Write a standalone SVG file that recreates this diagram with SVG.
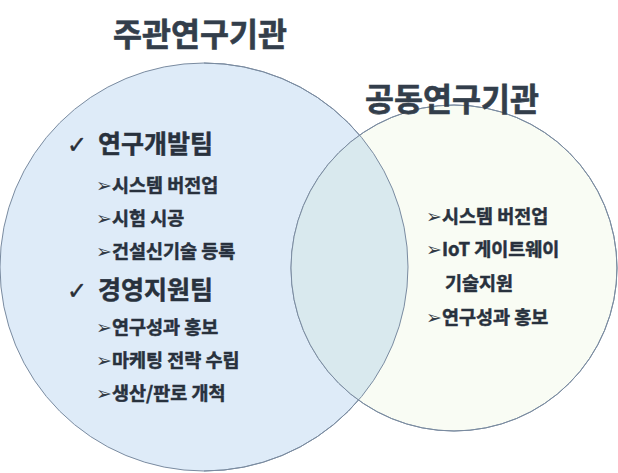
<svg xmlns="http://www.w3.org/2000/svg" width="618" height="473" viewBox="0 0 618 473">
<style>
.t{font-family:"Noto Sans CJK KR","Liberation Sans",sans-serif;font-weight:bold;fill:#28313d;stroke:#28313d;stroke-width:0.5}
.title{font-size:31.5px;fill:#333e4b;stroke:#333e4b;stroke-width:0.6}
.team{font-size:25px}
.item{font-size:18.5px}
.b{font-family:"DejaVu Sans",sans-serif;font-size:19px;font-weight:normal;fill:#333b45;stroke:none}
.ck{font-family:"DejaVu Sans",sans-serif;font-size:24px;font-weight:normal;fill:#2a2f36;stroke:#2a2f36;stroke-width:0.4}
.c{stroke:#7a8ba0;stroke-width:1}
</style>
<defs>
<clipPath id="bigclip"><circle cx="204" cy="267" r="204"/></clipPath>
</defs>
<g id="circle-main">
<circle class="c" cx="204" cy="267" r="204" fill="#deebf8"/>
</g>
<g id="circle-joint">
<circle class="c" cx="454" cy="268" r="163" fill="#f9fcf4"/>
<circle cx="454" cy="268" r="163" fill="#d9e9ee" clip-path="url(#bigclip)"/>
</g>
<g id="overlap-edges">
<path d="M204 63 A204 204 0 0 1 408 267 A204 204 0 0 1 204 471" fill="none" stroke="#7a8ba0" stroke-width="1"/>
<circle cx="454" cy="268" r="163" fill="none" stroke="#7a8ba0" stroke-width="1"/>
</g>
<g id="title-main"><text class="t title" x="200" y="46" text-anchor="middle">주관연구기관</text></g>
<g id="title-joint"><text class="t title" x="452" y="111" text-anchor="middle">공동연구기관</text></g>
<g id="main-list">
<text class="t team" x="67" y="153"><tspan class="ck">✓</tspan><tspan x="98">연구개발팀</tspan></text>
<text class="t item" x="96" y="192"><tspan class="b">➢</tspan><tspan x="112">시스템 버전업</tspan></text>
<text class="t item" x="96" y="225"><tspan class="b">➢</tspan><tspan x="112">시험 시공</tspan></text>
<text class="t item" x="96" y="258"><tspan class="b">➢</tspan><tspan x="112">건설신기술 등록</tspan></text>
<text class="t team" x="67" y="299"><tspan class="ck">✓</tspan><tspan x="98">경영지원팀</tspan></text>
<text class="t item" x="96" y="334"><tspan class="b">➢</tspan><tspan x="112">연구성과 홍보</tspan></text>
<text class="t item" x="96" y="367"><tspan class="b">➢</tspan><tspan x="112">마케팅 전략 수립</tspan></text>
<text class="t item" x="96" y="400"><tspan class="b">➢</tspan><tspan x="112">생산/판로 개척</tspan></text>
</g>
<g id="joint-list">
<text class="t item" x="426" y="223"><tspan class="b">➢</tspan><tspan x="442">시스템 버전업</tspan></text>
<text class="t item" x="426" y="256"><tspan class="b">➢</tspan><tspan x="442">IoT 게이트웨이</tspan></text>
<text class="t item" x="445" y="290">기술지원</text>
<text class="t item" x="426" y="324"><tspan class="b">➢</tspan><tspan x="442">연구성과 홍보</tspan></text>
</g>
</svg>
